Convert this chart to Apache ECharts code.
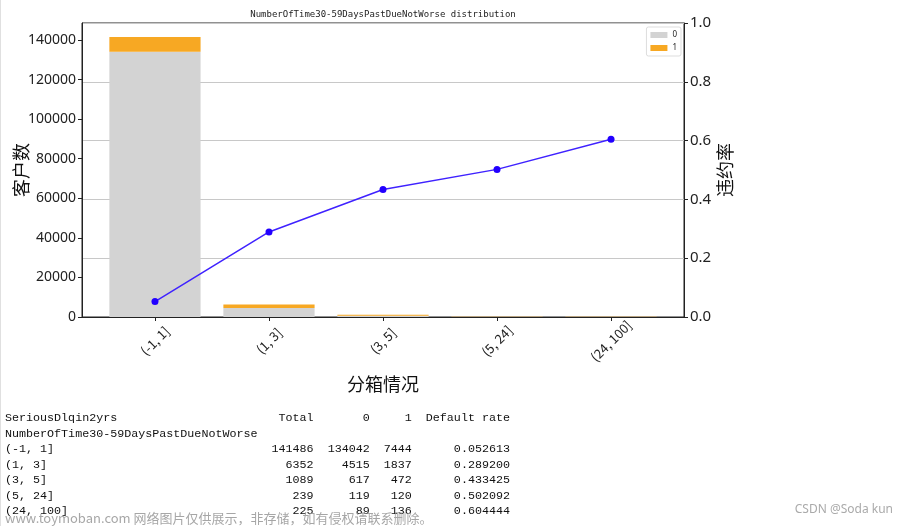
<!DOCTYPE html>
<html><head><meta charset="utf-8">
<script src="https://cdn.jsdelivr.net/npm/echarts@6/dist/echarts.min.js"></script>
<style>html,body{margin:0;padding:0;background:#fff}#c{width:899px;height:526px}</style>
</head><body><div id="c"></div>
<script>
const categories = ['(-1, 1]', '(1, 3]', '(3, 5]', '(5, 24]', '(24, 100]'];
const good = [134042, 4515, 617, 119, 89];
const bad = [7444, 1837, 472, 120, 136];
const defaultRate = [0.052613, 0.289200, 0.433425, 0.502092, 0.604444];
const leftTicks = [0, 20000, 40000, 60000, 80000, 100000, 120000, 140000];
const rightTicks = [0, 0.2, 0.4, 0.6, 0.8, 1.0];
const chartTitle = 'NumberOfTime30-59DaysPastDueNotWorse distribution';
const featureName = 'NumberOfTime30-59DaysPastDueNotWorse';
const targetName = 'SeriousDlqin2yrs';
const watermark = 'www.toymoban.com 网络图片仅供展示，非存储，如有侵权请联系删除。';
const credit = 'CSDN @Soda kun';

const idx = categories.map((c, i) => i);
const total = good.map((g, i) => g + bad[i]);

// pandas-like table text
const wIdx = Math.max(featureName.length, targetName.length, ...categories.map(c => c.length));
const colT = total.map(String), col0 = good.map(String), col1 = bad.map(String), colR = defaultRate.map(v => v.toFixed(6));
const wT = Math.max(5, ...colT.map(s => s.length));
const w0 = Math.max(1, ...col0.map(s => s.length));
const w1 = Math.max(1, ...col1.map(s => s.length));
const wR = Math.max(12, ...colR.map(s => s.length));
const tableLines = [
  targetName.padEnd(wIdx) + '  ' + 'Total'.padStart(wT) + '  ' + '0'.padStart(w0) + '  ' + '1'.padStart(w1) + '  ' + 'Default rate'.padStart(wR),
  featureName
].concat(categories.map((c, i) => c.padEnd(wIdx) + '  ' + colT[i].padStart(wT) + '  ' + col0[i].padStart(w0) + '  ' + col1[i].padStart(w1) + '  ' + colR[i].padStart(wR)));

const chart = echarts.init(document.getElementById('c'));
const GL = 82, GR = 684, GT = 23, GB = 317;
const BAR_W = 0.8;
const graphics = [
  { type: 'text', x: (GL + GR) / 2, y: 15, style: { text: chartTitle, align: 'center', verticalAlign: 'middle', font: '9px "DejaVu Sans Mono"', fill: '#222' } },
  { type: 'line', shape: { x1: 0.5, y1: 0, x2: 0.5, y2: 526 }, style: { stroke: '#e0e0e0', lineWidth: 1 } }
];
tableLines.forEach((t, i) => {
  graphics.push({ type: 'text', x: 5, y: 418 + i * 15.5, style: { text: t, verticalAlign: 'middle', font: '11.7px "Liberation Mono"', fill: '#111' } });
});
graphics.push({ type: 'text', x: 5, y: 518, style: { text: watermark, verticalAlign: 'middle', font: '13px "Noto Sans CJK SC"', fill: 'rgba(150,150,150,0.85)' } });
graphics.push({ type: 'text', x: 893, y: 510, style: { text: credit, align: 'right', verticalAlign: 'middle', font: '12px "Noto Sans"', fill: '#aaa' } });

function barRender(params, api) {
  const x = api.value(0), y0 = api.value(1), y1 = api.value(2);
  const p0 = api.coord([x - BAR_W / 2, y1]);
  const p1 = api.coord([x + BAR_W / 2, y0]);
  return {
    type: 'rect',
    shape: { x: p0[0], y: p0[1], width: p1[0] - p0[0], height: p1[1] - p0[1] },
    style: { fill: api.visual('color') }
  };
}

chart.setOption({
  animation: false,
  backgroundColor: '#fff',
  grid: { left: GL, right: 899 - GR, top: GT, bottom: 526 - GB, show: true, borderColor: '#222', borderWidth: 1, containLabel: false, outerBoundsMode: 'none' },
  legend: {
    data: ['0', '1'], orient: 'vertical', right: 899 - 681, top: 27,
    icon: 'rect', itemWidth: 17, itemHeight: 6, itemGap: 5,
    textStyle: { fontSize: 8, color: '#222', fontFamily: 'Noto Sans' },
    backgroundColor: '#fff', borderColor: '#ddd', borderWidth: 1, borderRadius: 2, padding: [4, 4, 4, 4]
  },
  xAxis: {
    type: 'value', min: -0.64, max: 4.64,
    name: '分箱情况', nameLocation: 'middle', nameGap: 58, nameMoveOverlap: false,
    nameTextStyle: { fontSize: 18, color: '#111', fontFamily: 'Noto Sans CJK SC' },
    axisLine: { show: true, onZero: false, lineStyle: { color: '#222' } },
    axisTick: { show: true, customValues: idx, length: 4, lineStyle: { color: '#222' } },
    axisLabel: { customValues: idx, rotate: 45, margin: 24, align: 'center', verticalAlign: 'middle', fontSize: 13, color: '#222', fontFamily: 'Noto Sans CJK SC', formatter: v => categories[Math.round(v)] },
    splitLine: { show: false }
  },
  yAxis: [
    {
      type: 'value', min: 0, max: 148560, position: 'left',
      name: '客户数', nameLocation: 'middle', nameGap: 52, nameRotate: 90, nameMoveOverlap: false,
      nameTextStyle: { fontSize: 18, color: '#111', fontFamily: 'Noto Sans CJK SC' },
      axisLine: { show: true, onZero: false, lineStyle: { color: '#222' } },
      axisTick: { show: true, customValues: leftTicks, length: 4, lineStyle: { color: '#222' } },
      axisLabel: { customValues: leftTicks, fontSize: 14, color: '#222', margin: 6, fontFamily: 'Noto Sans', formatter: v => String(v) },
      splitLine: { show: false }
    },
    {
      type: 'value', min: 0, max: 1, interval: 0.2, position: 'right',
      name: '违约率', nameLocation: 'middle', nameGap: 32, nameRotate: 90, nameMoveOverlap: false,
      nameTextStyle: { fontSize: 18, color: '#111', fontFamily: 'Noto Sans CJK SC' },
      axisLine: { show: true, onZero: false, lineStyle: { color: '#222' } },
      axisTick: { show: true, length: 4, lineStyle: { color: '#222' } },
      axisLabel: { fontSize: 15, color: '#222', margin: 6, fontFamily: 'Noto Sans', formatter: v => v.toFixed(1) },
      splitLine: { show: true, lineStyle: { color: '#c8c8c8', width: 1 } }
    }
  ],
  series: [
    { name: '0', type: 'custom', renderItem: barRender, xAxisIndex: 0, yAxisIndex: 0, itemStyle: { color: '#d3d3d3' },
      encode: { x: 0, y: [1, 2] }, data: idx.map(i => [i, 0, good[i]]) },
    { name: '1', type: 'custom', renderItem: barRender, xAxisIndex: 0, yAxisIndex: 0, itemStyle: { color: '#f7a823' },
      encode: { x: 0, y: [1, 2] }, data: idx.map(i => [i, good[i], good[i] + bad[i]]) },
    { name: 'rate', type: 'line', xAxisIndex: 0, yAxisIndex: 1, symbol: 'circle', symbolSize: 7, z: 5,
      lineStyle: { color: '#3f22ff', width: 1.5 }, itemStyle: { color: '#2200ff' }, data: idx.map(i => [i, defaultRate[i]]) }
  ],
  graphic: graphics
});
</script></body></html>
